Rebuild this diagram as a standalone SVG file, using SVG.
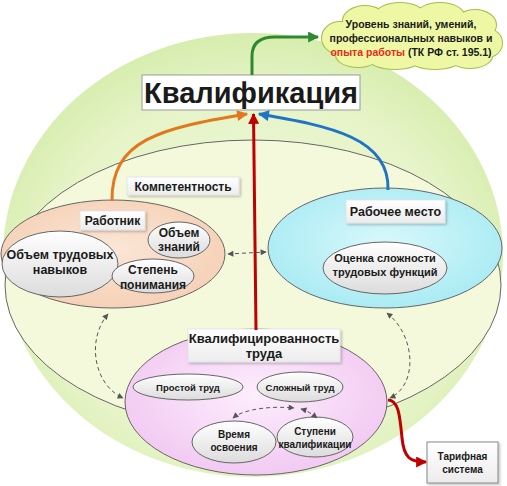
<svg xmlns="http://www.w3.org/2000/svg" width="507" height="486" viewBox="0 0 507 486">
<defs>
<radialGradient id="gOuter" cx="0.5" cy="0.55" r="0.55">
<stop offset="0" stop-color="#f1f9dc"/><stop offset="0.75" stop-color="#e6f4c8"/><stop offset="1" stop-color="#d7edae"/>
</radialGradient>
<radialGradient id="gPeach" cx="0.5" cy="0.45" r="0.6">
<stop offset="0" stop-color="#fbe6d6"/><stop offset="1" stop-color="#f5cfb4"/>
</radialGradient>
<radialGradient id="gCyan" cx="0.5" cy="0.45" r="0.6">
<stop offset="0" stop-color="#d8f8fb"/><stop offset="1" stop-color="#a6eaf3"/>
</radialGradient>
<radialGradient id="gPink" cx="0.5" cy="0.45" r="0.6">
<stop offset="0" stop-color="#fdeefd"/><stop offset="1" stop-color="#f1c6f1"/>
</radialGradient>
<linearGradient id="gWhite" x1="0" y1="0" x2="0" y2="1">
<stop offset="0" stop-color="#ffffff"/><stop offset="1" stop-color="#dcdcdc"/>
</linearGradient>
<linearGradient id="gBox" x1="0" y1="0" x2="0" y2="1">
<stop offset="0" stop-color="#ffffff"/><stop offset="1" stop-color="#ececec"/>
</linearGradient>
<filter id="sh" x="-20%" y="-20%" width="140%" height="150%">
<feDropShadow dx="1.5" dy="1.5" stdDeviation="1.2" flood-color="#000" flood-opacity="0.25"/>
</filter>
<marker id="mRed" viewBox="0 0 10 10" refX="9" refY="5" markerUnits="userSpaceOnUse" markerWidth="12" markerHeight="11" orient="auto"><path d="M0,0 L10,5 L0,10 z" fill="#c00000"/></marker>
<marker id="mOrange" viewBox="0 0 10 10" refX="9" refY="5" markerUnits="userSpaceOnUse" markerWidth="12" markerHeight="11" orient="auto"><path d="M0,0 L10,5 L0,10 z" fill="#e2781e"/></marker>
<marker id="mBlue" viewBox="0 0 10 10" refX="9" refY="5" markerUnits="userSpaceOnUse" markerWidth="12" markerHeight="11" orient="auto"><path d="M0,0 L10,5 L0,10 z" fill="#1f74c4"/></marker>
<marker id="mGreen" viewBox="0 0 10 10" refX="9" refY="5" markerUnits="userSpaceOnUse" markerWidth="12" markerHeight="11" orient="auto"><path d="M0,0 L10,5 L0,10 z" fill="#2e8a2e"/></marker>
<marker id="mDash" viewBox="0 0 10 10" refX="9" refY="5" markerUnits="userSpaceOnUse" markerWidth="7" markerHeight="6" orient="auto-start-reverse"><path d="M0,0 L10,5 L0,10 z" fill="#555"/></marker>
</defs>
<style>
text{font-family:"Liberation Sans",Arial,sans-serif;font-weight:bold;fill:#1a1a1a;text-anchor:middle;}
.el{stroke:#666;stroke-width:1;}
.sub{fill:url(#gWhite);stroke:#666;stroke-width:1;}
.lbl{fill:url(#gBox);stroke:#e0e0e0;stroke-width:0.8;filter:url(#sh);}
.dash{fill:none;stroke:#555;stroke-width:1;stroke-dasharray:4 3;marker-start:url(#mDash);marker-end:url(#mDash);}
.arr{fill:none;stroke-width:3;}
</style>

<g id="outer">
<ellipse cx="253" cy="255" rx="250" ry="222" fill="url(#gOuter)"/>
</g>

<g id="cloud">
<g fill="none" stroke="#a6bd4e" stroke-width="2">
<ellipse cx="340" cy="38" rx="18" ry="16"/>
<ellipse cx="365" cy="21" rx="22" ry="15"/>
<ellipse cx="400" cy="15" rx="24" ry="12"/>
<ellipse cx="440" cy="16" rx="24" ry="13"/>
<ellipse cx="475" cy="25" rx="21" ry="15"/>
<ellipse cx="487" cy="43" rx="15" ry="14"/>
<ellipse cx="470" cy="56" rx="22" ry="12"/>
<ellipse cx="435" cy="60" rx="25" ry="9"/>
<ellipse cx="395" cy="60" rx="25" ry="9"/>
<ellipse cx="358" cy="55" rx="22" ry="12"/>
</g>
<g fill="#eef8a4">
<ellipse cx="340" cy="38" rx="18" ry="16"/>
<ellipse cx="365" cy="21" rx="22" ry="15"/>
<ellipse cx="400" cy="15" rx="24" ry="12"/>
<ellipse cx="440" cy="16" rx="24" ry="13"/>
<ellipse cx="475" cy="25" rx="21" ry="15"/>
<ellipse cx="487" cy="43" rx="15" ry="14"/>
<ellipse cx="470" cy="56" rx="22" ry="12"/>
<ellipse cx="435" cy="60" rx="25" ry="9"/>
<ellipse cx="395" cy="60" rx="25" ry="9"/>
<ellipse cx="358" cy="55" rx="22" ry="12"/>
<ellipse cx="412" cy="38" rx="80" ry="24"/>
</g>
<text font-size="10.5" x="411" y="28">Уровень знаний, умений,</text>
<text font-size="10.5" x="411" y="42">профессиональных навыков и</text>
<text font-size="10.5" x="411" y="56"><tspan fill="#e8291c">опыта работы</tspan> (ТК РФ ст. 195.1)</text>
</g>

<g id="competence">
<ellipse cx="253" cy="285" rx="248" ry="145" fill="#f5f9dc" class="el"/>
<rect x="127" y="177" width="112" height="18" class="lbl"/>
<text font-size="12" x="183" y="190.5">Компетентность</text>
</g>

<g id="worker">
<ellipse cx="113" cy="254" rx="112" ry="54" fill="url(#gPeach)" class="el"/>
<rect x="80" y="211" width="65" height="19" class="lbl"/>
<text font-size="12" x="112.5" y="225">Работник</text>
</g>
<g id="skills">
<ellipse cx="60" cy="264" rx="58" ry="33" class="sub"/>
<text font-size="12.5" x="60" y="259">Объем трудовых</text>
<text font-size="12.5" x="60" y="274">навыков</text>
</g>
<g id="knowledge">
<ellipse cx="179" cy="240" rx="31" ry="18" class="sub"/>
<text font-size="12" x="179" y="237">Объем</text>
<text font-size="12" x="179" y="251">знаний</text>
</g>
<g id="understanding">
<ellipse cx="153" cy="276" rx="41" ry="17" class="sub"/>
<text font-size="12" x="153" y="274">Степень</text>
<text font-size="12" x="153" y="289">понимания</text>
</g>

<g id="workplace">
<ellipse cx="385" cy="248" rx="117" ry="60" fill="url(#gCyan)" class="el"/>
<rect x="346" y="200" width="99" height="23" class="lbl"/>
<text font-size="12.5" x="395.5" y="216">Рабочее место</text>
</g>
<g id="complexity">
<ellipse cx="385" cy="268" rx="62" ry="26" class="sub"/>
<text font-size="11" x="385" y="262">Оценка сложности</text>
<text font-size="11" x="385" y="276">трудовых функций</text>
</g>

<g id="labor">
<ellipse cx="256" cy="402" rx="131" ry="73" fill="url(#gPink)" class="el"/>
<rect x="188" y="329" width="152" height="33" class="lbl"/>
<text font-size="13" x="264" y="343">Квалифицированность</text>
<text font-size="13" x="264" y="358">труда</text>
</g>
<g id="simple">
<ellipse cx="188" cy="387" rx="55" ry="13" class="sub"/>
<text font-size="9.5" x="188" y="391">Простой труд</text>
</g>
<g id="complex">
<ellipse cx="300" cy="387" rx="43" ry="15" class="sub"/>
<text font-size="9.5" x="300" y="391">Сложный труд</text>
</g>
<g id="time">
<ellipse cx="234" cy="442" rx="42" ry="21" class="sub"/>
<text font-size="10" x="234" y="438">Время</text>
<text font-size="10" x="234" y="451">освоения</text>
</g>
<g id="grades">
<ellipse cx="315" cy="437" rx="38" ry="20" class="sub"/>
<text font-size="10" x="315" y="435">Ступени</text>
<text font-size="10" x="315" y="448">квалификации</text>
</g>

<g id="title">
<rect x="142" y="75" width="218" height="35" fill="#fff" stroke="#999" stroke-width="1"/>
<text font-size="29" x="251" y="103" fill="#111">Квалификация</text>
</g>

<g id="tariff">
<rect x="427" y="442" width="71" height="41" fill="url(#gBox)" stroke="#888" stroke-width="1" filter="url(#sh)"/>
<text font-size="10" x="462.5" y="460">Тарифная</text>
<text font-size="10" x="462.5" y="473">система</text>
</g>

<g id="connectors">
<path class="arr" stroke="#c00000" d="M256,330 L253.5,114" marker-end="url(#mRed)"/>
<path class="arr" stroke="#e2781e" d="M112,201 C111,140 160,128 247,114" marker-end="url(#mOrange)"/>
<path class="arr" stroke="#1f74c4" d="M388,190 C390,138 330,126 259,114" marker-end="url(#mBlue)"/>
<path class="arr" stroke="#2e8a2e" d="M252,75 L252,56 Q252,37 275,37 L318,37" marker-end="url(#mGreen)"/>
<path class="arr" stroke="#c00000" d="M388,400 C399,400 400,418 402,438 C404,458 410,462 426,462" marker-end="url(#mRed)"/>
<path class="dash" d="M228,254 L266,252"/>
<path class="dash" d="M108,314 C86,340 94,385 123,398"/>
<path class="dash" d="M387,313 C416,336 418,385 390,398"/>
<path class="dash" d="M233,418 C245,408 275,406 294,408"/>
<path class="dash" d="M301,409 C308,411 312,414 317,418"/>
</g>
</svg>
